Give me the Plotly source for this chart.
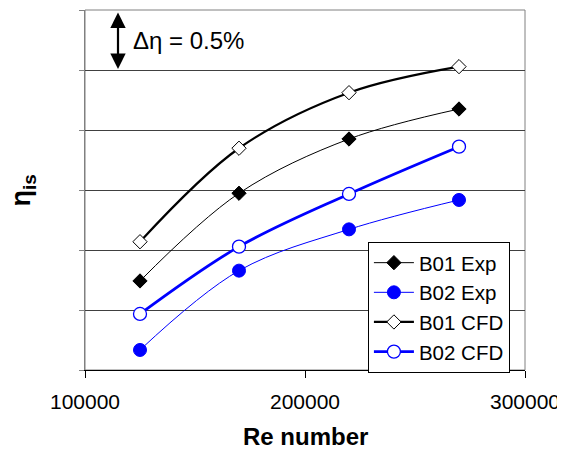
import plotly.graph_objects as go

re_vals = [125000, 170000, 220000, 270000]
b01_exp = [0.742, 1.473, 1.925, 2.175]
b02_exp = [0.167, 0.828, 1.172, 1.417]
b01_cfd = [1.069, 1.848, 2.311, 2.528]
b02_cfd = [0.467, 1.028, 1.467, 1.861]

x_ticks = [100000, 200000, 300000]
x_tick_labels = ["100000", "200000", "300000"]

BLUE = "#0000FF"
FONT = "Liberation Sans, Arial, sans-serif"

fig = go.Figure()
fig.add_trace(go.Scatter(
    x=re_vals, y=b01_exp, name="B01 Exp", mode="lines+markers",
    line=dict(color="black", width=1, shape="spline"),
    marker=dict(symbol="diamond", size=11, color="black", line=dict(color="black", width=1))))
fig.add_trace(go.Scatter(
    x=re_vals, y=b02_exp, name="B02 Exp", mode="lines+markers",
    line=dict(color=BLUE, width=1, shape="spline"),
    marker=dict(symbol="circle", size=13, color=BLUE, line=dict(color=BLUE, width=1))))
fig.add_trace(go.Scatter(
    x=re_vals, y=b01_cfd, name="B01 CFD", mode="lines+markers",
    line=dict(color="black", width=2.2, shape="spline"),
    marker=dict(symbol="diamond", size=11, color="white", line=dict(color="black", width=1))))
fig.add_trace(go.Scatter(
    x=re_vals, y=b02_cfd, name="B02 CFD", mode="lines+markers",
    line=dict(color=BLUE, width=2.8, shape="spline"),
    marker=dict(symbol="circle", size=13, color="white", line=dict(color=BLUE, width=1.3))))

# top and right border of the plot area
fig.add_shape(type="rect", xref="paper", yref="paper", x0=0, y0=0, x1=1, y1=1,
              line=dict(color="#808080", width=1), layer="below")

# delta-eta double arrow
fig.add_annotation(x=115000, y=2.5, ax=115000, ay=3.0, xref="x", yref="y",
                   axref="x", ayref="y", text="", showarrow=True,
                   arrowhead=2, startarrowhead=2, arrowside="end+start",
                   arrowsize=1.4, startarrowsize=1.4, arrowwidth=2.2, arrowcolor="black",
                   standoff=1, startstandoff=1)
fig.add_annotation(x=121000, y=2.75, xref="x", yref="y", text="Δη = 0.5%",
                   showarrow=False, xanchor="left", yanchor="middle",
                   font=dict(family=FONT, size=24, color="black"))

# axis titles
fig.add_annotation(x=-0.14, y=0.5, xref="paper", yref="paper", text="<b>η<sub>is</sub></b>",
                   textangle=-90, showarrow=False, xanchor="center", yanchor="middle",
                   font=dict(family=FONT, size=27, color="black"))
fig.add_annotation(x=0.5, y=-0.186, xref="paper", yref="paper", text="<b>Re number</b>",
                   showarrow=False, xanchor="center", yanchor="middle",
                   font=dict(family=FONT, size=24, color="black"))

# page body has an 8px margin, so the figure is drawn 8px smaller and shifted
fig.update_layout(
    width=557, height=442,
    margin=dict(l=77, r=40, t=2, b=80, autoexpand=False),
    paper_bgcolor="white", plot_bgcolor="white",
    font=dict(family=FONT, size=21, color="black"),
    showlegend=True,
    legend=dict(x=0.643, y=0.356, xanchor="left", yanchor="top",
                bgcolor="white", bordercolor="black", borderwidth=1,
                font=dict(family=FONT, size=20.5, color="black"),
                tracegroupgap=0, itemwidth=40),
    xaxis=dict(range=[100000, 300000], tickvals=x_ticks, ticktext=x_tick_labels,
               showgrid=False, zeroline=False, showline=True, linecolor="black",
               linewidth=1, ticks="outside", ticklen=7, tickcolor="black",
               tickfont=dict(family=FONT, size=21), ticklabelstandoff=6,
               automargin=False),
    yaxis=dict(range=[0, 3], dtick=0.5, showticklabels=False, showgrid=True,
               gridcolor="#404040", gridwidth=1, zeroline=False, showline=True,
               linecolor="#808080", linewidth=1, ticks="outside", ticklen=5,
               tickcolor="#808080", automargin=False),
)

fig.write_html("out.html")
